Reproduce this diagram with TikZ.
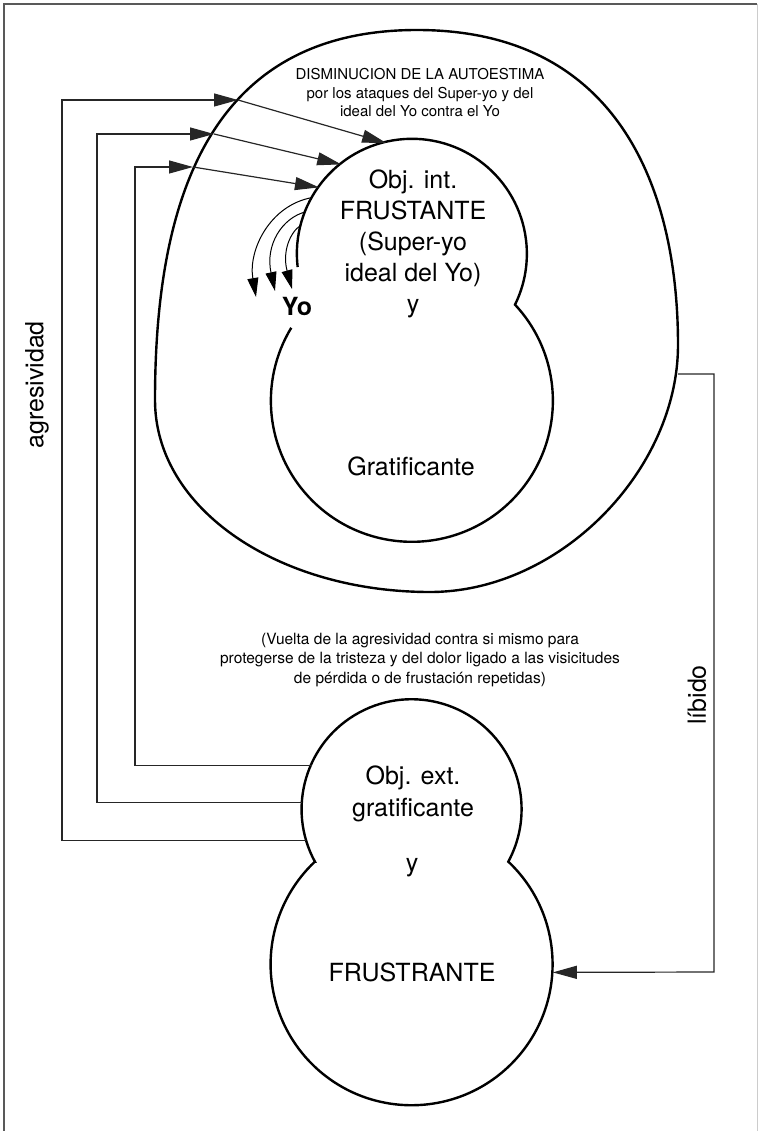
\documentclass[tikz,border=0pt]{standalone}
\usepackage{fontspec}
\setmainfont{TeX Gyre Heros}
\usetikzlibrary{arrows.meta}

\begin{document}
\begin{tikzpicture}[x=1pt,y=-1pt,
    outline/.style={line width=2.4pt},
    conn/.style={line width=1.2pt,black!85},
    arr/.style={-{Triangle[length=24pt,width=13pt]}},
    yoarr/.style={line width=1pt,-{Triangle[length=19pt,width=11pt]}},
    ring/.style={circle,inner sep=0pt,outer sep=0pt},
    bigtxt/.style={font=\fontsize{25}{31}\selectfont,align=center},
    smalltxt/.style={font=\fontsize{15}{18.5}\selectfont,align=center}]
  \useasboundingbox (0,0) rectangle (758,1131);

  % frame
  \draw[line width=1.6pt,black!65] (4,1131) -- (4,4) -- (757,4);
  \draw[black!20] (757,4) -- (757,1131);

  % the self
  \draw[outline] (417,30) .. controls (619,30) and (678,190) .. (678,345)
    .. controls (678,470) and (560,592) .. (430,592)
    .. controls (280,592) and (155,510) .. (155,400)
    .. controls (155,190) and (215,30) .. cycle;

  % circles used as anchors
  \node[ring,minimum size=230pt] (int) at (412,255) {};
  \node[ring,minimum size=282pt] (grat) at (412,402) {};
  \node[ring,minimum size=220pt] (ext) at (412,810) {};
  \node[ring,minimum size=282pt] (frus) at (412,965) {};

  % internal object, open for the Yo
  \draw[outline] (int.186.6) arc[start angle=186.6,end angle=-26.25,radius=115pt]
    arc[start angle=42.99,end angle=-211.2,radius=141pt];

  % external object
  \draw[outline] (ext.208.45) arc[start angle=208.45,end angle=-28.45,radius=110pt]
    arc[start angle=46.69,end angle=-226.69,radius=141pt] -- cycle;

  % texts
  \node[smalltxt] (dism) at (420,93) {DISMINUCION DE LA AUTOESTIMA\\por los ataques del Super-yo y del\\ideal del Yo contra el Yo};
  \node[bigtxt] (inttxt) at (413,244) {Obj. int.\\FRUSTANTE\\(Super-yo\\ideal del Yo)\\y};
  \node[bigtxt,font=\fontsize{25}{31}\selectfont\bfseries] (yo) at (297,306) {Yo};
  \node[bigtxt] (grattxt) at (411,466) {Gratificante};
  \node[smalltxt,font=\fontsize{15.5}{19.5}\selectfont] (vuelta) at (420,660) {(Vuelta de la agresividad contra si mismo para\\protegerse de la tristeza y del dolor ligado a las visicitudes\\de pérdida o de frustación repetidas)};
  \node[bigtxt,font=\fontsize{25}{32}\selectfont] (exttxt) at (413,794) {Obj. ext.\\gratificante};
  \node[bigtxt] (ytxt) at (412,868) {y};
  \node[bigtxt] (frustxt) at (412,972) {FRUSTRANTE};
  \node[bigtxt,rotate=90] (agr) at (37,385) {agresividad};
  \node[bigtxt,rotate=90] (lib) at (697,695) {líbido};

  % crossing points on the self
  \coordinate (o1) at (238,100);
  \coordinate (o2) at (214,134);
  \coordinate (o3) at (193,167);
  \coordinate (lib0) at (678,374);

  % agresividad
  \draw[conn,arr] (ext.196.4) -| (62,100) -- (o1);
  \draw[conn,arr] (ext.176.9) -| (97,134) -- (o2);
  \draw[conn,arr] (ext.156.4) -| (135,167) -- (o3);
  \draw[conn,arr] (o1) -- (int.103.2);
  \draw[conn,arr] (o2) -- (int.128.1);
  \draw[conn,arr] (o3) -- (int.144.8);

  % turned against the Yo
  \coordinate (yo1) at (256,297);
  \coordinate (yo2) at (275,291);
  \coordinate (yo3) at (292,289);
  \draw[yoarr] (int.150.3) .. controls (270,205) and (248,250) .. (yo1);
  \draw[yoarr] (int.158.6) .. controls (282,218) and (265,245) .. (yo2);
  \draw[yoarr] (int.165.7) .. controls (290,232) and (282,252) .. (yo3);

  % libido
  \draw[conn,arr] (lib0) -| (714,972) -- (frus.-3);
\end{tikzpicture}
\end{document}
